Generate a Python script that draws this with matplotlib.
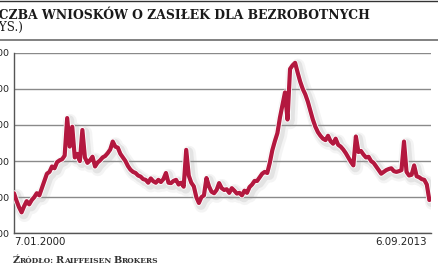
import numpy as np
import pandas as pd
import matplotlib
matplotlib.use('Agg')
import matplotlib.pyplot as plt
import matplotlib.patheffects as pe
from matplotlib.transforms import IdentityTransform, offset_copy

# weekly jobless claims (thousands), read roughly once per month off the picture
claims_2000 = [311, 290, 272, 258, 275, 289, 280, 292, 300, 311, 305, 325]
claims_2001 = [345, 365, 370, 385, 380, 397, 402, 405, 415, 519, 440, 495]
claims_2002 = [410, 420, 400, 486, 410, 395, 402, 412, 385, 396, 402, 410]
claims_2003 = [414, 422, 432, 454, 440, 437, 420, 410, 400, 386, 376, 370]
claims_2004 = [367, 360, 357, 350, 348, 340, 352, 344, 340, 348, 342, 350]
claims_2005 = [367, 340, 339, 345, 348, 335, 340, 329, 431, 360, 340, 330]
claims_2006 = [300, 284, 300, 305, 353, 330, 315, 311, 320, 339, 325, 320]
claims_2007 = [322, 312, 325, 318, 310, 312, 305, 318, 312, 328, 335, 345]
claims_2008 = [345, 355, 365, 370, 367, 395, 430, 455, 477, 520, 555, 590]
claims_2009 = [515, 655, 665, 672, 645, 620, 600, 585, 565, 540, 515, 495]
claims_2010 = [480, 470, 462, 458, 470, 455, 448, 462, 445, 440, 432, 422]
claims_2011 = [410, 398, 388, 468, 425, 428, 418, 410, 412, 400, 395, 385]
claims_2012 = [375, 365, 370, 375, 378, 380, 372, 370, 372, 375, 454, 370]
claims_2013 = [360, 362, 388, 358, 355, 350, 348, 335, 292]

claims = (claims_2000 + claims_2001 + claims_2002 + claims_2003 + claims_2004
          + claims_2005 + claims_2006 + claims_2007 + claims_2008 + claims_2009
          + claims_2010 + claims_2011 + claims_2012 + claims_2013)
start, end = '2000-01-07', '2013-09-06'
dates = pd.date_range(start, end, periods=len(claims))

y_ticks = [200, 300, 400, 500, 600, 700]
y_labels = ['200', '300', '400', '500', '600', '700']
date_labels = ['7.01.2000', '6.09.2013']

title = 'LICZBA WNIOSKÓW O ZASIŁEK DLA BEZROBOTNYCH'
subtitle = '(TYS.)'
source_parts = [('Ź', 7.0), ('RÓDŁO:', 5.4), (' ', 5.4), ('R', 7.0), ('AIFFEISEN', 5.4),
                (' ', 5.4), ('B', 7.0), ('ROKERS', 5.4)]

red = '#b3183f'
W, H = 439, 268

fig = plt.figure(figsize=(W / 100, H / 100), dpi=100)
fig.patch.set_facecolor('white')
ax = fig.add_axes([14 / W, (H - 233.3) / H, 417 / W, (233.3 - 52.7) / H])

ax.plot(dates, claims, color=red, lw=3.0, solid_joinstyle='round', solid_capstyle='round',
        path_effects=[pe.SimpleLineShadow(offset=(2, -2), shadow_color='#999999', alpha=0.10, linewidth=10),
                      pe.SimpleLineShadow(offset=(1.5, -1.5), shadow_color='#999999', alpha=0.18, linewidth=7),
                      pe.Stroke(linewidth=4.2, foreground='white'),
                      pe.Normal()], zorder=3)

ax.set_ylim(200, 700)
ax.set_xlim(dates[0], dates[-1] + pd.Timedelta(days=20))
ax.set_yticks(y_ticks)
ax.set_yticklabels(y_labels, fontsize=6.8, color='#222222')
ax.tick_params(axis='y', length=0, pad=3.4)
ax.grid(axis='y', color='#8a8a8a', lw=1.0)
ax.set_axisbelow(True)
for s in ['top', 'right']:
    ax.spines[s].set_visible(False)
for s in ['left', 'bottom']:
    ax.spines[s].set_color('#555555')
    ax.spines[s].set_linewidth(1.0)

ax.set_xticks([dates[0], dates[-1]])
ax.set_xticklabels(date_labels, fontsize=7.4, color='#222222')
ax.tick_params(axis='x', length=0, pad=3)
lab = ax.get_xticklabels()
lab[0].set_ha('left')
lab[1].set_ha('right')
lab[1].set_transform(offset_copy(lab[1].get_transform(), fig=fig, x=-2, units='dots'))

# header
fig.text(-16 / W, 1 - 19 / H, title, fontsize=8.9, fontweight='bold', family='DejaVu Serif',
         color='#1a1a1a', ha='left', va='baseline')
fig.text(-14 / W, 1 - 31 / H, subtitle, fontsize=8.6, family='DejaVu Serif',
         color='#1a1a1a', ha='left', va='baseline')
fig.add_artist(plt.Line2D([0, 1], [1 - 39.5 / H] * 2, transform=fig.transFigure, color='#777777', lw=1.3))
fig.add_artist(plt.Line2D([0, 1], [1 - 0.5 / H] * 2, transform=fig.transFigure, color='#333333', lw=1.0))

# source line in small caps
r = fig.canvas.get_renderer()
x = 13
for s, size in source_parts:
    t = fig.text(x, H - 263, s, fontsize=size, fontweight='bold', family='DejaVu Serif',
                 color='#333333', transform=IdentityTransform(), ha='left', va='baseline')
    if s == ' ':
        x += size * 0.35
    else:
        x += t.get_window_extent(r).width

fig.savefig('out.png', dpi=100)
